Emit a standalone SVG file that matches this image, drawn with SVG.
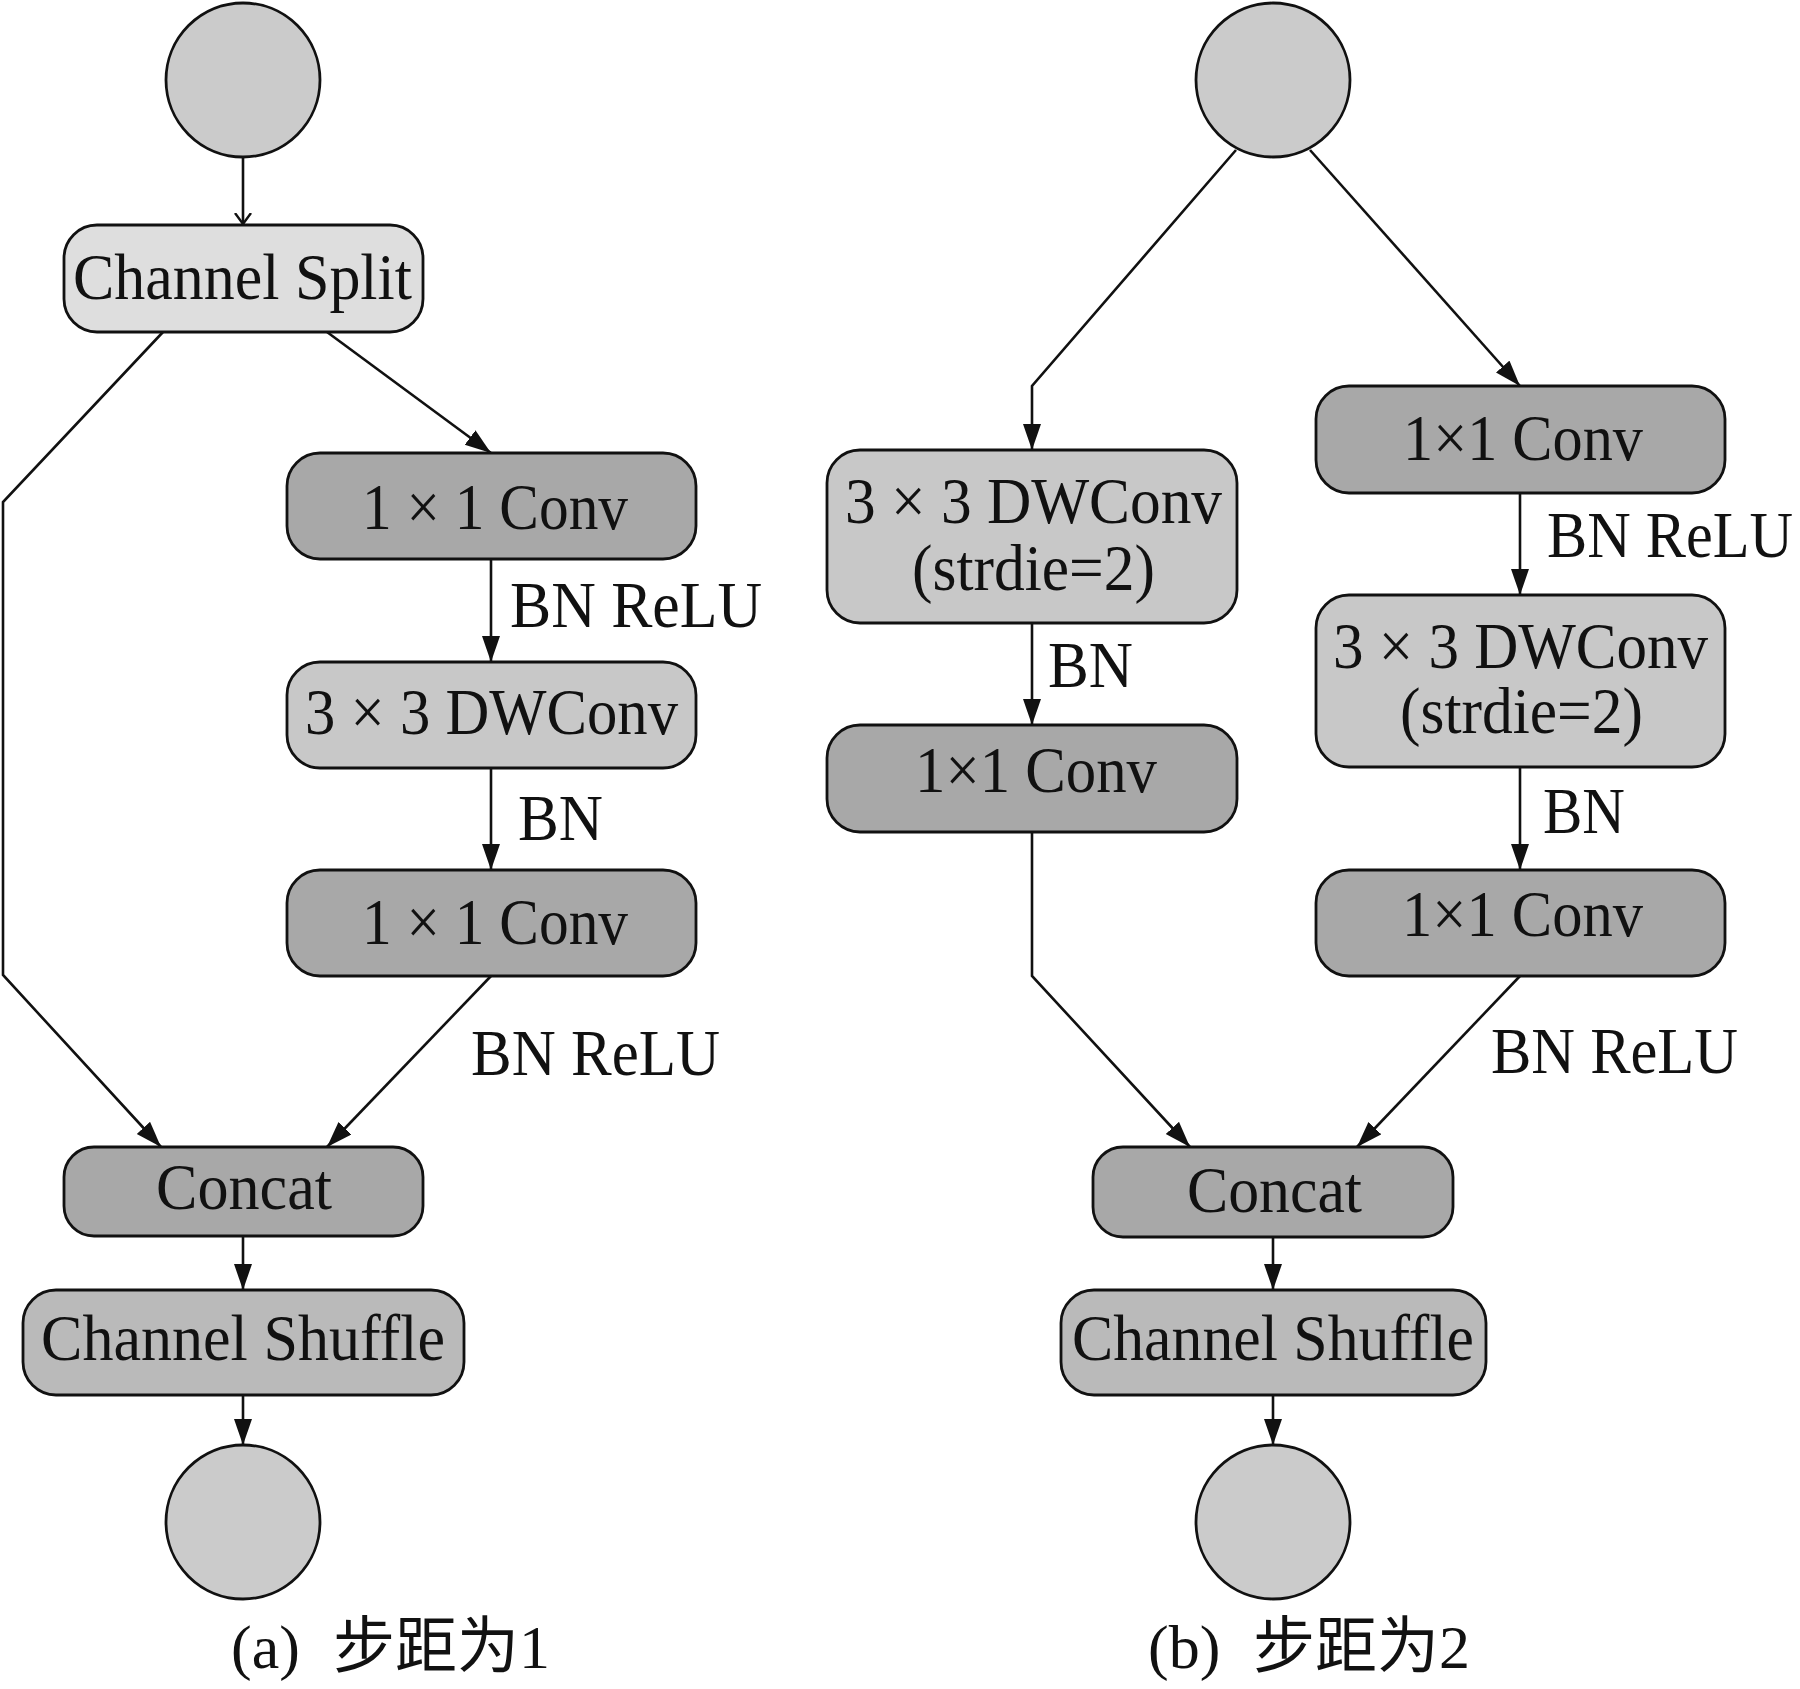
<svg xmlns="http://www.w3.org/2000/svg" width="1800" height="1689" viewBox="0 0 1800 1689">
<style>
.bg{fill:#ffffff}
.box{stroke:#111;stroke-width:2.8}
.light{fill:#dedede}
.mid{fill:#c8c8c8}
.dark{fill:#a8a8a8}
.shuf{fill:#bababa}
.circ{fill:#cbcbcb;stroke:#111;stroke-width:2.8}
.t{font-family:"Liberation Serif","Times New Roman",serif;font-size:66px;fill:#111}
.c{text-anchor:middle}
.cap{font-family:"Liberation Serif","Noto Sans CJK SC",serif;font-size:62px;fill:#111}
.edge{fill:none;stroke:#111;stroke-width:2.6}
</style>
<defs>
<marker id="arr" markerUnits="userSpaceOnUse" markerWidth="28" markerHeight="20" refX="26" refY="9" orient="auto">
<path d="M0,0 L26,9 L0,18 z" fill="#111"/>
</marker>
<marker id="vee" markerUnits="userSpaceOnUse" markerWidth="14" markerHeight="20" refX="11" refY="9" orient="auto">
<path d="M0,1 L11,9 L0,17" fill="none" stroke="#111" stroke-width="2.4"/>
</marker>
</defs>
<rect class="bg" x="0" y="0" width="1800" height="1689"/>

<g id="connectors">
<path class="edge" d="M243,157 L243,224" marker-end="url(#vee)"/>
<path class="edge" d="M163,332 L3,502 L3,975 L161,1147" marker-end="url(#arr)"/>
<path class="edge" d="M327,332 L491,453" marker-end="url(#arr)"/>
<path class="edge" d="M491,559 L491,662" marker-end="url(#arr)"/>
<path class="edge" d="M491,768 L491,870" marker-end="url(#arr)"/>
<path class="edge" d="M491,976 L327,1147" marker-end="url(#arr)"/>
<path class="edge" d="M243,1236 L243,1290" marker-end="url(#arr)"/>
<path class="edge" d="M243,1395 L243,1445" marker-end="url(#arr)"/>
<path class="edge" d="M1236,150 L1032,386 L1032,450" marker-end="url(#arr)"/>
<path class="edge" d="M1310,150 L1520,386" marker-end="url(#arr)"/>
<path class="edge" d="M1520,493 L1520,595" marker-end="url(#arr)"/>
<path class="edge" d="M1032,623 L1032,725" marker-end="url(#arr)"/>
<path class="edge" d="M1520,767 L1520,870" marker-end="url(#arr)"/>
<path class="edge" d="M1032,832 L1032,976 L1190,1147" marker-end="url(#arr)"/>
<path class="edge" d="M1520,976 L1357,1147" marker-end="url(#arr)"/>
<path class="edge" d="M1273,1237 L1273,1290" marker-end="url(#arr)"/>
<path class="edge" d="M1273,1395 L1273,1445" marker-end="url(#arr)"/>
<text class="t" x="510" y="627" textLength="252" lengthAdjust="spacingAndGlyphs">BN ReLU</text>
<text class="t" x="518" y="840" textLength="85" lengthAdjust="spacingAndGlyphs">BN</text>
<text class="t" x="471" y="1075" textLength="249" lengthAdjust="spacingAndGlyphs">BN ReLU</text>
<text class="t" x="1048" y="687" textLength="85" lengthAdjust="spacingAndGlyphs">BN</text>
<text class="t" x="1547" y="557" textLength="246" lengthAdjust="spacingAndGlyphs">BN ReLU</text>
<text class="t" x="1543" y="833" textLength="82" lengthAdjust="spacingAndGlyphs">BN</text>
<text class="t" x="1491" y="1073" textLength="247" lengthAdjust="spacingAndGlyphs">BN ReLU</text>
</g>

<g id="a-in"><circle class="circ" cx="243" cy="80" r="77"/></g>
<g id="a-split"><rect class="box light" x="64" y="225" width="359" height="107" rx="33"/><text class="t c" x="242.5" y="299" textLength="339" lengthAdjust="spacingAndGlyphs">Channel Split</text></g>
<g id="a-conv1"><rect class="box dark" x="287" y="453" width="409" height="106" rx="33"/><text class="t c" x="495" y="529" textLength="266" lengthAdjust="spacingAndGlyphs">1 × 1 Conv</text></g>
<g id="a-dw"><rect class="box mid" x="287" y="662" width="409" height="106" rx="33"/><text class="t c" x="491.5" y="734" textLength="373" lengthAdjust="spacingAndGlyphs">3 × 3 DWConv</text></g>
<g id="a-conv2"><rect class="box dark" x="287" y="870" width="409" height="106" rx="33"/><text class="t c" x="495" y="944" textLength="266" lengthAdjust="spacingAndGlyphs">1 × 1 Conv</text></g>
<g id="a-concat"><rect class="box dark" x="64" y="1147" width="359" height="89" rx="30"/><text class="t c" x="244" y="1209" textLength="176" lengthAdjust="spacingAndGlyphs">Concat</text></g>
<g id="a-shuffle"><rect class="box shuf" x="23" y="1290" width="441" height="105" rx="33"/><text class="t c" x="243" y="1360" textLength="404" lengthAdjust="spacingAndGlyphs">Channel Shuffle</text></g>
<g id="a-out"><circle class="circ" cx="243" cy="1522" r="77"/></g>
<g id="a-caption"><text class="cap" y="1668"><tspan x="231">(a)</tspan><tspan x="333">步距为1</tspan></text></g>

<g id="b-in"><circle class="circ" cx="1273" cy="80" r="77"/></g>
<g id="b-dwL"><rect class="box mid" x="827" y="450" width="410" height="173" rx="33"/><text class="t c" x="1033.5" y="523" textLength="377" lengthAdjust="spacingAndGlyphs">3 × 3 DWConv</text><text class="t c" x="1033.5" y="590" textLength="243" lengthAdjust="spacingAndGlyphs">(strdie=2)</text></g>
<g id="b-convL"><rect class="box dark" x="827" y="725" width="410" height="107" rx="33"/><text class="t c" x="1036" y="792" textLength="242" lengthAdjust="spacingAndGlyphs">1×1 Conv</text></g>
<g id="b-convR1"><rect class="box dark" x="1316" y="386" width="409" height="107" rx="33"/><text class="t c" x="1523" y="460" textLength="240" lengthAdjust="spacingAndGlyphs">1×1 Conv</text></g>
<g id="b-dwR"><rect class="box mid" x="1316" y="595" width="409" height="172" rx="33"/><text class="t c" x="1520.5" y="668" textLength="375" lengthAdjust="spacingAndGlyphs">3 × 3 DWConv</text><text class="t c" x="1521.5" y="733" textLength="243" lengthAdjust="spacingAndGlyphs">(strdie=2)</text></g>
<g id="b-convR2"><rect class="box dark" x="1316" y="870" width="409" height="106" rx="33"/><text class="t c" x="1522.5" y="936" textLength="241" lengthAdjust="spacingAndGlyphs">1×1 Conv</text></g>
<g id="b-concat"><rect class="box dark" x="1093" y="1147" width="360" height="90" rx="30"/><text class="t c" x="1274.5" y="1212" textLength="175" lengthAdjust="spacingAndGlyphs">Concat</text></g>
<g id="b-shuffle"><rect class="box shuf" x="1061" y="1290" width="425" height="105" rx="33"/><text class="t c" x="1273" y="1360" textLength="402" lengthAdjust="spacingAndGlyphs">Channel Shuffle</text></g>
<g id="b-out"><circle class="circ" cx="1273" cy="1522" r="77"/></g>
<g id="b-caption"><text class="cap" y="1668"><tspan x="1148">(b)</tspan><tspan x="1253">步距为2</tspan></text></g>
</svg>
